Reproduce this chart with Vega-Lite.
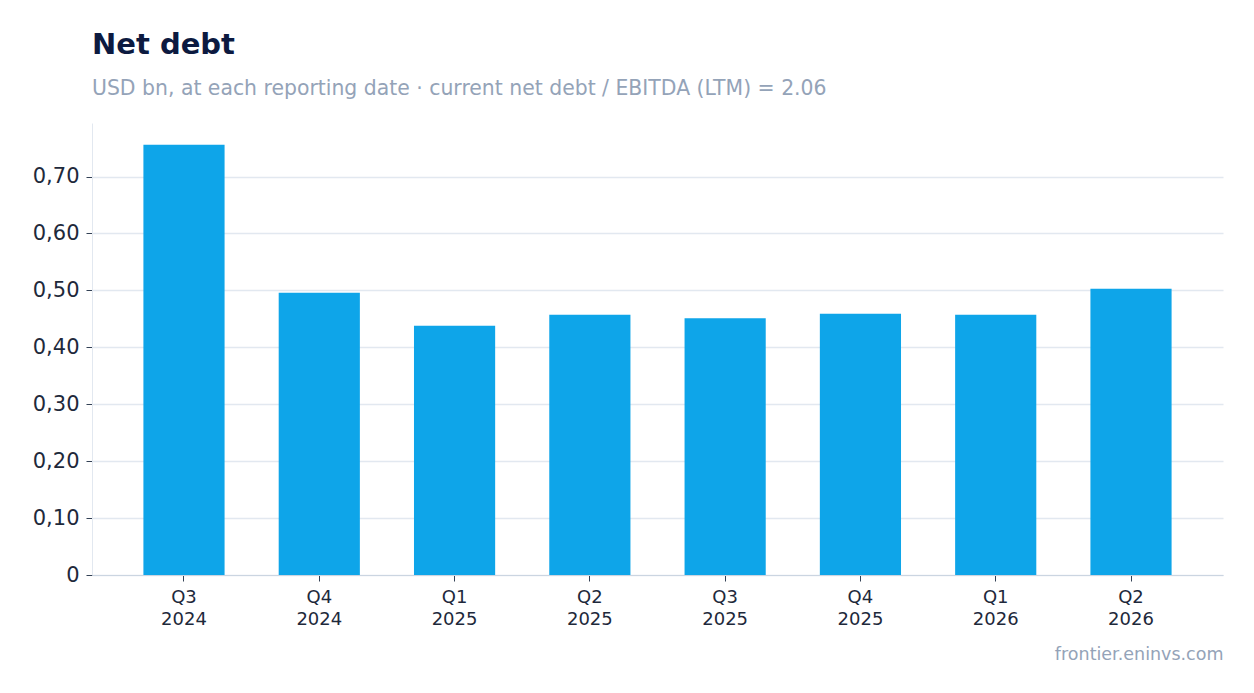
{
  "$schema": "https://vega.github.io/schema/vega-lite/v6.json",
  "autosize": {"type": "none"},
  "width": 1131,
  "height": 452,
  "padding": {"left": 92, "top": 123, "right": 31, "bottom": 118},
  "background": "white",
  "title": {
    "text": "Net debt",
    "subtitle": "USD bn, at each reporting date · current net debt / EBITDA (LTM) = 2.06",
    "anchor": "start",
    "frame": "group",
    "font": "DejaVu Sans",
    "fontSize": 29,
    "fontWeight": "bold",
    "color": "#0c1a40",
    "subtitleFont": "DejaVu Sans",
    "subtitleFontSize": 20.4,
    "subtitleColor": "#94a3b8",
    "subtitlePadding": 19,
    "offset": 24
  },
  "data": {
    "values": [
      {"quarter": "Q3 2024", "net_debt": 0.756},
      {"quarter": "Q4 2024", "net_debt": 0.496},
      {"quarter": "Q1 2025", "net_debt": 0.438},
      {"quarter": "Q2 2025", "net_debt": 0.457},
      {"quarter": "Q3 2025", "net_debt": 0.451},
      {"quarter": "Q4 2025", "net_debt": 0.459},
      {"quarter": "Q1 2026", "net_debt": 0.457},
      {"quarter": "Q2 2026", "net_debt": 0.503}
    ]
  },
  "mark": {"type": "bar", "color": "#0ea5e9"},
  "encoding": {
    "x": {
      "field": "quarter",
      "type": "ordinal",
      "sort": null,
      "scale": {"paddingInner": 0.4, "paddingOuter": 0.38},
      "axis": {
        "title": "frontier.eninvs.com",
        "titleAnchor": "end",
        "titleAlign": "right",
        "titleFont": "DejaVu Sans",
        "titleFontSize": 17.5,
        "titleFontWeight": "normal",
        "titleColor": "#94a3b8",
        "titlePadding": 17,
        "labelExpr": "split(datum.label, ' ')",
        "labelAngle": 0,
        "labelFont": "DejaVu Sans",
        "labelFontSize": 18,
        "labelColor": "#1e293b",
        "labelPadding": 7,
        "labelLineHeight": 22,
        "tickColor": "#334155",
        "tickSize": 6,
        "domainColor": "#cbd5e1",
        "grid": false
      }
    },
    "y": {
      "field": "net_debt",
      "type": "quantitative",
      "scale": {"domain": [0, 0.794], "nice": false},
      "axis": {
        "title": null,
        "values": [0, 0.1, 0.2, 0.3, 0.4, 0.5, 0.6, 0.7],
        "labelExpr": "datum.value === 0 ? '0' : replace(format(datum.value, '.2f'), '.', ',')",
        "labelFont": "DejaVu Sans",
        "labelFontSize": 21,
        "labelColor": "#1e293b",
        "labelPadding": 7,
        "tickColor": "#334155",
        "tickSize": 6,
        "domainColor": "#e2e8f0",
        "gridColor": "#e2e8f0",
        "gridWidth": 1.5
      }
    }
  },
  "config": {
    "view": {"stroke": null}
  }
}
